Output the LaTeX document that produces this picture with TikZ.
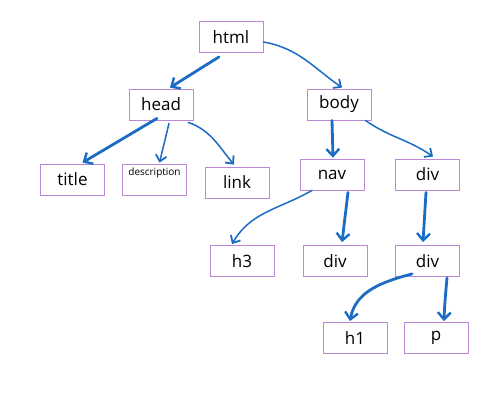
\documentclass[tikz,border=0pt]{standalone}
\usepackage{fontspec}
\setmainfont{Open Sans}
\usetikzlibrary{arrows.meta}
\definecolor{boxline}{RGB}{188,136,214}
\definecolor{arrowblue}{RGB}{26,108,196}
\begin{document}
\begin{tikzpicture}[x=1pt,y=-1pt,
  box/.style={draw=boxline, line width=0.8pt, minimum width=64pt, minimum height=31pt, inner sep=0pt, font=\fontsize{17}{20}\selectfont},
  conn/.style={draw=arrowblue, line width=1.5pt, line cap=round, -{Straight Barb[length=6pt,width=11pt,line width=1.8pt]}},
  heavy/.style={conn, line width=2.8pt, -{Straight Barb[length=7pt,width=13pt,line width=2.4pt]}}]
\useasboundingbox (0,0) rectangle (500,400);
\node[box] (html) at (231,37) {html};
\node[box] (head) at (161,104.5) {head};
\node[box] (body) at (339,104.5) {body};
\node[box] (title) at (72.5,179.5) {title};
\node[box] (desc) at (154.5,179.5) {};
\node[font=\fontsize{10}{12}\selectfont, inner sep=0pt] (desctext) at (154.5,173) {description};
\node[box] (link) at (237,182.5) {link};
\node[box] (nav) at (332,174.5) {nav};
\node[box] (div1) at (427.5,174.5) {div};
\node[box] (h3) at (242,261) {h3};
\node[box] (div2) at (335,261) {div};
\node[box] (div3) at (427.5,261) {div};
\node[box] (h1) at (355,338) {h1};
\node[box] (p) at (436,338) {p};

\draw[heavy] ([xshift=-12pt,yshift=-4pt]html.south) -- ([xshift=9pt,yshift=1pt]head.north);
\draw[conn] ([yshift=-5pt]html.east) to[out=-10,in=145] ([xshift=3pt,yshift=1pt]body.north);
\draw[heavy] ([xshift=-4pt,yshift=2pt]head.south) -- ([xshift=10pt,yshift=1pt]title.north);
\draw[conn] ([xshift=8pt,yshift=-3pt]head.south) -- ([xshift=5pt,yshift=1pt]desc.north);
\draw[conn] ([xshift=-5pt,yshift=-2pt]head.south east) to[out=-20,in=130] ([xshift=-3pt,yshift=2pt]link.north);
\draw[heavy] ([xshift=-7pt]body.south) -- ([xshift=1pt,yshift=1pt]nav.north);
\draw[conn] ([xshift=-6pt]body.south east) to[out=-35,in=145] ([xshift=5.5pt,yshift=2pt]div1.north);
\draw[conn] ([xshift=-20pt]nav.south) to[out=-150,in=60] ([xshift=-10pt,yshift=1pt]h3.north);
\draw[heavy] ([xshift=16pt,yshift=-2pt]nav.south) -- ([xshift=7pt,yshift=3pt]div2.north);
\draw[heavy] ([xshift=-1.5pt,yshift=-2pt]div1.south) -- ([xshift=-4.5pt,yshift=3pt]div3.north);
\draw[heavy] ([xshift=-15.5pt,yshift=3pt]div3.south) to[out=-165,in=80] ([xshift=-5pt,yshift=1pt]h1.north);
\draw[heavy] ([xshift=19.5pt,yshift=-1pt]div3.south) to[out=-95,in=88] ([xshift=8pt,yshift=1pt]p.north);
\end{tikzpicture}
\end{document}
